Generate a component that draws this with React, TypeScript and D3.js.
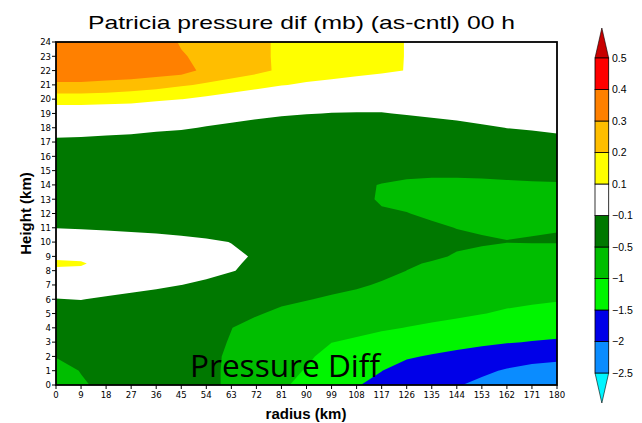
import React from 'react';
import * as d3 from 'd3';

// grid coordinates (km)
const radiusKm = [0, 9, 18, 27, 36, 45, 54, 63, 72, 81, 90, 99, 108, 117, 126, 135, 144, 153, 162, 171, 180];
const heightKm = [0, 1, 2, 3, 4, 5, 6, 7, 8, 8.5, 9, 10, 11, 12, 13, 14, 15, 16, 17, 18, 19, 20, 21, 22, 23, 24];

// pressure difference (mb), one row per height, columns = radiusKm
const pressureDiff = [
  [-0.7, -0.53, -0.44, -0.42, -0.4, -0.38, -0.42, -0.56, -0.8, -0.95, -1.1, -1.3, -1.48, -1.6, -1.75, -1.85, -1.97, -2.1, -2.33, -2.4, -2.45],
  [-0.6, -0.49, -0.42, -0.4, -0.38, -0.37, -0.42, -0.56, -0.78, -0.9, -1.02, -1.24, -1.36, -1.495, -1.65, -1.7, -1.8, -1.92, -2.043, -2.14, -2.2],
  [-0.49, -0.42, -0.38, -0.37, -0.36, -0.36, -0.42, -0.55, -0.74, -0.84, -0.94, -1.12, -1.22, -1.315, -1.46, -1.535, -1.6, -1.667, -1.757, -1.84, -1.883],
  [-0.42, -0.36, -0.34, -0.33, -0.33, -0.34, -0.41, -0.52, -0.68, -0.76, -0.86, -0.994, -1.06, -1.13, -1.24, -1.3, -1.375, -1.433, -1.478, -1.516, -1.55],
  [-0.35, -0.3, -0.28, -0.28, -0.29, -0.31, -0.38, -0.495, -0.6, -0.67, -0.76, -0.84, -0.889, -0.958, -1.007, -1.08, -1.148, -1.211, -1.261, -1.302, -1.337],
  [-0.24, -0.2, -0.2, -0.22, -0.24, -0.27, -0.33, -0.45, -0.475, -0.56, -0.64, -0.69, -0.75, -0.82, -0.88, -0.87, -0.92, -0.99, -1.043, -1.094, -1.144],
  [-0.105, -0.095, -0.125, -0.155, -0.18, -0.2, -0.27, -0.4, -0.4, -0.44, -0.484, -0.545, -0.62, -0.68, -0.76, -0.8, -0.855, -0.89, -0.92, -0.94, -0.97],
  [0.0, 0.0, -0.005, -0.033, -0.066, -0.099, -0.16, -0.28, -0.3, -0.38, -0.41, -0.4, -0.449, -0.54, -0.63, -0.695, -0.748, -0.79, -0.815, -0.83, -0.853],
  [0.08, 0.07, 0.04, 0.02, 0.0, -0.02, -0.01, -0.08, -0.2, -0.33, -0.37, -0.37, -0.4, -0.4, -0.502, -0.58, -0.64, -0.68, -0.71, -0.72, -0.735],
  [0.12, 0.115, 0.05, 0.03, 0.01, -0.01, 0.0, -0.065, -0.15, -0.3, -0.35, -0.36, -0.39, -0.39, -0.47, -0.52, -0.58, -0.63, -0.657, -0.665, -0.677],
  [0.08, 0.07, 0.04, 0.02, 0.0, -0.02, -0.01, -0.06, -0.12, -0.28, -0.34, -0.35, -0.39, -0.39, -0.45, -0.465, -0.52, -0.58, -0.605, -0.61, -0.62],
  [0.0, 0.0, -0.01, -0.02, -0.04, -0.06, -0.07, -0.104, -0.15, -0.28, -0.33, -0.35, -0.38, -0.4, -0.45, -0.44, -0.46, -0.466, -0.495, -0.49, -0.49],
  [-0.103, -0.111, -0.122, -0.134, -0.14, -0.149, -0.19, -0.2, -0.25, -0.31, -0.34, -0.36, -0.39, -0.43, -0.47, -0.47, -0.504, -0.534, -0.528, -0.515, -0.505],
  [-0.25, -0.26, -0.27, -0.28, -0.28, -0.28, -0.3, -0.3, -0.33, -0.36, -0.37, -0.39, -0.42, -0.48, -0.495, -0.53, -0.56, -0.59, -0.6, -0.59, -0.56],
  [-0.3, -0.32, -0.33, -0.34, -0.34, -0.35, -0.36, -0.37, -0.39, -0.4, -0.41, -0.42, -0.45, -0.52, -0.545, -0.57, -0.59, -0.61, -0.62, -0.6, -0.58],
  [-0.35, -0.36, -0.37, -0.38, -0.38, -0.39, -0.4, -0.41, -0.42, -0.43, -0.44, -0.45, -0.46, -0.51, -0.56, -0.56, -0.57, -0.58, -0.58, -0.56, -0.54],
  [-0.32, -0.33, -0.34, -0.35, -0.36, -0.38, -0.39, -0.4, -0.42, -0.43, -0.44, -0.45, -0.46, -0.4, -0.41, -0.44, -0.43, -0.402, -0.351, -0.32, -0.34],
  [-0.25, -0.26, -0.27, -0.28, -0.3, -0.33, -0.35, -0.36, -0.38, -0.4, -0.41, -0.42, -0.43, -0.35, -0.33, -0.35, -0.34, -0.32, -0.26, -0.24, -0.25],
  [-0.13, -0.132, -0.141, -0.149, -0.18, -0.213, -0.25, -0.28, -0.3, -0.32, -0.33, -0.34, -0.35, -0.3, -0.25, -0.26, -0.25, -0.22, -0.16, -0.15, -0.15],
  [-0.03, -0.04, -0.05, -0.06, -0.07, -0.08, -0.111, -0.14, -0.18, -0.2, -0.22, -0.23, -0.24, -0.22, -0.16, -0.15, -0.13, -0.12, -0.098, -0.0875, -0.067],
  [0.04, 0.04, 0.035, 0.037, 0.0, 0.0, 0.0, -0.026, -0.047, -0.075, -0.094, -0.104, -0.107, -0.105, -0.093, -0.079, -0.07, -0.04, -0.05, -0.05, -0.04],
  [0.14, 0.14, 0.135, 0.127, 0.118, 0.101, 0.078, 0.052, 0.03, 0.005, 0.0, -0.02, -0.02, -0.05, -0.03, -0.03, -0.03, -0.02, -0.03, -0.03, -0.03],
  [0.29, 0.29, 0.28, 0.26, 0.235, 0.211, 0.187, 0.159, 0.13, 0.105, 0.085, 0.067, 0.0475, -0.02, 0.05, 0.0, -0.01, -0.01, -0.02, -0.02, -0.02],
  [0.34, 0.34, 0.347, 0.36, 0.353, 0.338, 0.275, 0.25, 0.223, 0.185, 0.16, 0.15, 0.135, 0.13, 0.095, 0.03, 0.01, 0.0, -0.01, -0.02, -0.02],
  [0.35, 0.35, 0.355, 0.365, 0.355, 0.31, 0.27, 0.25, 0.24, 0.17, 0.17, 0.16, 0.14, 0.14, 0.095, 0.04, 0.02, 0.0, -0.01, -0.02, -0.02],
  [0.36, 0.355, 0.36, 0.37, 0.355, 0.29, 0.265, 0.25, 0.24, 0.17, 0.17, 0.16, 0.14, 0.14, 0.095, 0.04, 0.02, 0.0, -0.01, -0.02, -0.02],
];

const levels = [-2.5, -2, -1.5, -1, -0.5, -0.1, 0.1, 0.2, 0.3, 0.4, 0.5];
const levelLabels = ['\u22122.5', '\u22122', '\u22121.5', '\u22121', '\u22120.5', '\u22120.1', '0.1', '0.2', '0.3', '0.4', '0.5'];
// colors: below first level, each band, above last level
const bandColors = ['#00f5ff', '#0a8cff', '#0000e8', '#00f500', '#00be00', '#007800', '#ffffff', '#ffff00', '#ffbe00', '#ff8000', '#ff0000', '#c80000'];

const xTicks = [0, 9, 18, 27, 36, 45, 54, 63, 72, 81, 90, 99, 108, 117, 126, 135, 144, 153, 162, 171, 180];
const yTicks = d3.range(0, 25);

const titleText = 'Patricia pressure dif (mb) (as-cntl) 00 h';

function interpAt(arr: number[], c: number) {
  const f = c - 0.5;
  const n = arr.length;
  let i = Math.floor(f);
  i = Math.max(0, Math.min(n - 2, i));
  const t = f - i;
  return arr[i] + t * (arr[i + 1] - arr[i]);
}

export default function App() {
  const W = 642, H = 423;
  const x = d3.scaleLinear().domain([0, 180]).range([56, 557]);
  const y = d3.scaleLinear().domain([0, 24]).range([385, 42]);
  const nx = radiusKm.length, ny = heightKm.length;
  const values = pressureDiff.flat();
  const contours = d3.contours().size([nx, ny]).thresholds(levels)(values);
  const proj = d3.geoTransform({
    point(px: number, py: number) {
      // @ts-ignore
      this.stream.point(x(interpAt(radiusKm, px)), y(interpAt(heightKm, py)));
    },
  });
  const path = d3.geoPath(proj as any);

  const cb = d3.scaleLinear().domain([0, 10]).range([373, 58]);
  const cbL = 595, cbR = 608.7, cbMid = (cbL + cbR) / 2;
  const tickFont = "'Liberation Sans Narrow', 'DejaVu Sans Condensed', 'Liberation Sans', sans-serif";

  return (
    <svg width={W} height={H} style={{ position: 'absolute', left: 0, top: 0, background: '#fff' }}>
      <defs>
        <clipPath id="plotClip">
          <rect x={x(0)} y={y(24)} width={x(180) - x(0)} height={y(0) - y(24)} />
        </clipPath>
      </defs>
      <rect width={W} height={H} fill="#fff" />
      <g clipPath="url(#plotClip)">
        <rect x={x(0)} y={y(24)} width={x(180) - x(0)} height={y(0) - y(24)} fill={bandColors[0]} />
        {contours.map((c, i) => (
          <path key={i} d={path(c as any) || ''} fill={bandColors[i + 1]} stroke="none" />
        ))}
      </g>
      <rect x={x(0)} y={y(24)} width={x(180) - x(0)} height={y(0) - y(24)} fill="none" stroke="#000" strokeWidth={1.8} />

      {/* y axis */}
      {yTicks.map((t) => (
        <g key={'y' + t}>
          <line x1={x(0) - 4} x2={x(0)} y1={y(t)} y2={y(t)} stroke="#000" strokeWidth={1} />
          <text x={x(0) - 5} y={y(t)} dy="0.35em" textAnchor="end" fontSize={9.5} fontFamily={tickFont}>{t}</text>
        </g>
      ))}
      {/* x axis */}
      {xTicks.map((t) => (
        <g key={'x' + t}>
          <line x1={x(t)} x2={x(t)} y1={y(0)} y2={y(0) + 4} stroke="#000" strokeWidth={1} />
          <text x={x(t)} y={y(0) + 10} dy="0.35em" textAnchor="middle" fontSize={9.5} fontFamily={tickFont}>{t}</text>
        </g>
      ))}

      <text x={301.5} y={29} textAnchor="middle" fontSize={19} fontFamily="'Liberation Sans', Arial, sans-serif" textLength={427} lengthAdjust="spacingAndGlyphs">{titleText}</text>
      <text x={306} y={419} textAnchor="middle" fontSize={15} fontWeight="bold" fontFamily="'Liberation Sans', Arial, sans-serif">radius (km)</text>
      <text transform={`translate(31,${(y(0) + y(24)) / 2}) rotate(-90)`} textAnchor="middle" fontSize={15} fontWeight="bold" fontFamily="'Liberation Sans', Arial, sans-serif">Height (km)</text>

      {/* colorbar */}
      <polygon points={`${cbL},${cb(10)} ${cbR},${cb(10)} ${cbMid},28`} fill={bandColors[11]} stroke="#000" strokeWidth={0.6} />
      <polygon points={`${cbL},${cb(0)} ${cbR},${cb(0)} ${cbMid},403`} fill={bandColors[0]} stroke="#000" strokeWidth={0.6} />
      {d3.range(10).map((k) => (
        <rect key={'cb' + k} x={cbL} y={cb(k + 1)} width={cbR - cbL} height={cb(k) - cb(k + 1)} fill={bandColors[k + 1]} stroke="#000" strokeWidth={0.8} />
      ))}
      {levels.map((lv, k) => (
        <text key={'cl' + k} x={612} y={cb(k)} dy="0.35em" fontSize={10.5} fontFamily="'Liberation Sans', Arial, sans-serif">{levelLabels[k]}</text>
      ))}

      <text x={190} y={377} fontSize={31} fontFamily="'Open Sans', 'Noto Sans', sans-serif" textLength={190} lengthAdjust="spacingAndGlyphs" fill="#000">Pressure Diff</text>
    </svg>
  );
}
